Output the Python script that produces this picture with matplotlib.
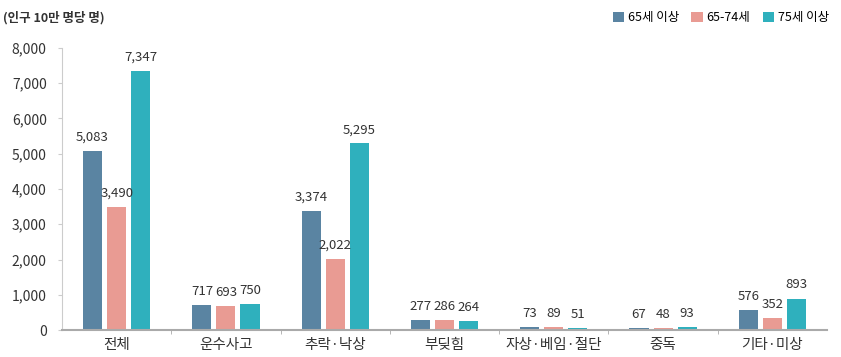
import matplotlib.pyplot as plt
import numpy as np

plt.rcParams['font.family'] = ['Noto Sans CJK KR', 'DejaVu Sans']

categories = ['전체', '운수사고', '추락·낙상', '부딪힘', '자상·베임·절단', '중독', '기타·미상']
age65 = [5083, 717, 3374, 277, 73, 67, 576]
age65_74 = [3490, 693, 2022, 286, 89, 48, 352]
age75 = [7347, 750, 5295, 264, 51, 93, 893]
series_names = ['65세 이상', '65-74세', '75세 이상']
colors = ['#5a84a2', '#e99b93', '#2fb0bd']

fig = plt.figure(figsize=(8.41, 3.57), dpi=100)
ax = fig.add_axes([62/841, 1-330/357, (827-62)/841, (330-48)/357])

x = np.arange(len(categories))
w = 0.175
step = 0.22
for i, (vals, c) in enumerate(zip([age65, age65_74, age75], colors)):
    pos = x + (i-1)*step
    ax.bar(pos, vals, width=w, color=c, label=series_names[i])
    for p, v in zip(pos, vals):
        ax.text(p, v + 200, f'{v:,}', ha='center', va='bottom', fontsize=9.5, color='#333333')

ax.set_xlim(-0.5, len(categories)-0.5)
ax.set_ylim(0, 8000)
ax.set_yticks(np.arange(0, 8001, 1000))
ax.set_yticklabels([f'{v:,}' for v in range(0, 8001, 1000)], fontsize=10, color='#333333')
ax.set_xticks(x)
ax.set_xticklabels(categories, fontsize=10.5, color='#333333')
ax.tick_params(axis='x', length=0, pad=6)
ax.set_xticks(np.arange(0.5, len(categories)-1, 1), minor=True)
ax.tick_params(axis='x', which='minor', length=3, color='#aaaaaa', direction='out')
ax.tick_params(axis='y', length=3, color='#cccccc', pad=8)
for s in ['top', 'right']:
    ax.spines[s].set_visible(False)
ax.spines['left'].set_color('#cccccc')
ax.spines['bottom'].set_color('#aaaaaa')
ax.spines['bottom'].set_linewidth(1.5)

fig.text(3/841, 1-18/357, '(인구 10만 명당 명)', fontsize=9, fontweight='bold',
         color='#333333', va='center', ha='left')

fig.legend(loc='center right', bbox_to_anchor=(840/841, 1-18/357), ncol=3, frameon=False,
           fontsize=9, handlelength=0.9, handleheight=0.9, handletextpad=0.3,
           columnspacing=1.0)

fig.savefig('out.png', dpi=100)
